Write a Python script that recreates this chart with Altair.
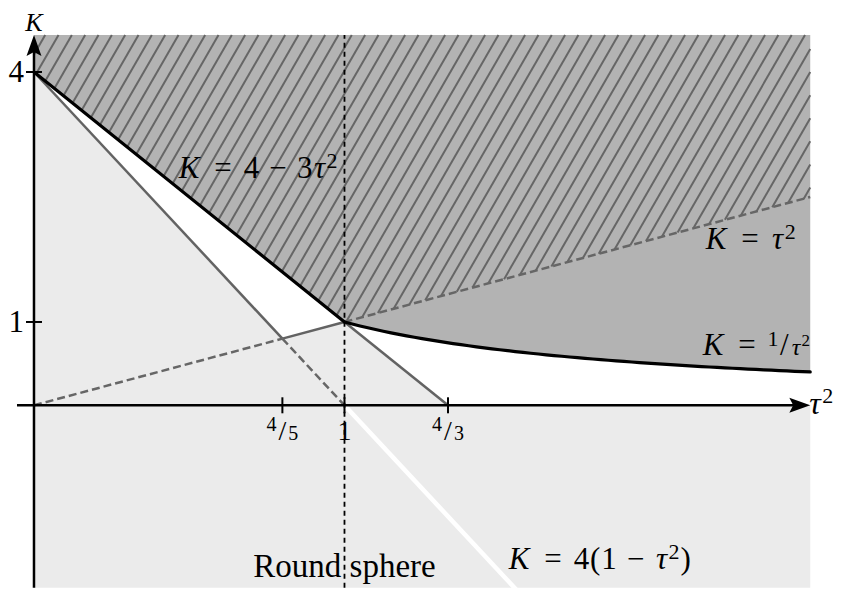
import numpy as np
import pandas as pd
import altair as alt

# ------------------------------------------------------------------ data
tau_breaks = [0.0, 4 / 5, 1.0, 4 / 3]      # tau^2 where the boundary pieces meet
tau_max = 2.5                              # right end of the drawn region
K_top = 4.444                              # top of the shaded region
K_bottom = -2.19                           # bottom of the shaded region
tau_curve = [1.0 + 0.025 * i for i in range(61)]   # tau^2 samples for K = 1/tau^2

x_tick_values = [4 / 5, 1.0, 4 / 3]
x_tick_labels = ["4/5", "1", "4/3"]
y_tick_values = [1.0, 4.0]
y_tick_labels = ["1", "4"]


def K_upper(t):   # K = 4 - 3 tau^2
    return 4 - 3 * t


def K_tau(t):     # K = tau^2
    return t


def K_inv(t):     # K = 1 / tau^2
    return 1 / t


def K_round(t):   # K = 4 (1 - tau^2)
    return 4 * (1 - t)


# ------------------------------------------------------------------ scales
W, H = 829, 582
x_dom = [-0.0837, 2.5862]
y_dom = [-2.2165, 4.7678]
sx = W / (x_dom[1] - x_dom[0])
sy = H / (y_dom[1] - y_dom[0])
xs = alt.Scale(domain=x_dom, nice=False, zero=False)
ys = alt.Scale(domain=y_dom, nice=False, zero=False)
X = alt.X("x:Q", scale=xs, axis=None)
Y = alt.Y("y:Q", scale=ys, axis=None)
X2 = alt.X2("x2:Q")
Y2 = alt.Y2("y2:Q")

t0, t45, t1, t43 = tau_breaks

# ------------------------------------------------------------------ regions
light_x = [t0, t45, t1, t43, tau_max]
light_y = [K_round(t0), K_round(t45), K_tau(t1), K_upper(t43), 0.0]
df_light = pd.DataFrame({"x": light_x, "y": light_y, "y2": K_bottom})

dark_x = [t0] + tau_curve
dark_y = [K_upper(t0)] + [K_inv(t) for t in tau_curve]
df_dark = pd.DataFrame({"x": dark_x, "y": dark_y, "y2": K_top})

light = alt.Chart(df_light).mark_area(color="#ebebeb", opacity=1, interpolate="linear").encode(x=X, y=Y, y2=Y2)
dark = alt.Chart(df_dark).mark_area(color="#b3b3b3", opacity=1, interpolate="linear").encode(x=X, y=Y, y2=Y2)

# hatch lines (60 degrees on screen) over the region above K=4-3tau^2 / K=tau^2
m = np.tan(np.radians(60)) * sx / sy
spacing = 13.33 / sx
phase = (711.7 - 34) / sx
hatch = []
k = int(np.ceil((0 - phase) / spacing))
while True:
    a = phase + k * spacing
    k += 1
    if a > tau_max + (K_top - K_tau(tau_max)) / m:
        break
    if a <= 0:
        continue
    if a > tau_max:
        xe, ye = tau_max, K_top - m * (a - tau_max)
    else:
        xe, ye = a, K_top
    x1 = (4 - K_top + m * a) / (m + 3)
    xs0 = x1 if x1 <= 1 else (m * a - K_top) / (m - 1)
    xs0 = max(xs0, 0.0)
    ys0 = K_top - m * (a - xs0)
    if xs0 >= xe:
        continue
    hatch.append({"x": xs0, "y": ys0, "x2": xe, "y2": ye})
df_hatch = pd.DataFrame(hatch)
hatch_layer = alt.Chart(df_hatch).mark_rule(color="#666666", strokeWidth=2.0).encode(x=X, y=Y, x2=X2, y2=Y2)


def seg(ta, tb, f):
    return {"x": ta, "y": f(ta), "x2": tb, "y2": f(tb)}


df_gray_solid = pd.DataFrame([seg(t0, t45, K_round), seg(t45, t1, K_tau), seg(t1, t43, K_upper)])
df_gray_dash = pd.DataFrame([seg(t45, t1, K_round), seg(t0, t45, K_tau), seg(t1, tau_max, K_tau)])
gray_solid = alt.Chart(df_gray_solid).mark_rule(color="#636363", strokeWidth=2.5).encode(x=X, y=Y, x2=X2, y2=Y2)
gray_dash = alt.Chart(df_gray_dash).mark_rule(color="#666666", strokeWidth=2.5, strokeDash=[8, 4]).encode(
    x=X, y=Y, x2=X2, y2=Y2)

t_white = 1 - (y_dom[0] - 0.1) / 4
df_white = pd.DataFrame([seg(t1, t_white, K_round)])
white = alt.Chart(df_white).mark_rule(color="white", strokeWidth=4.5).encode(x=X, y=Y, x2=X2, y2=Y2)

df_black = pd.DataFrame([seg(t0, t1, K_upper)])
black_seg = alt.Chart(df_black).mark_rule(color="black", strokeWidth=3.2, strokeCap="round").encode(
    x=X, y=Y, x2=X2, y2=Y2)
df_inv = pd.DataFrame({"x": tau_curve, "y": [K_inv(t) for t in tau_curve]})
black_curve = alt.Chart(df_inv).mark_line(color="black", strokeWidth=3.2, strokeCap="round").encode(x=X, y=Y)

df_vert = pd.DataFrame([{"x": t1, "y": K_bottom, "x2": t1, "y2": K_top}])
vert = alt.Chart(df_vert).mark_rule(color="black", strokeWidth=1.8, strokeDash=[5, 4]).encode(
    x=X, y=Y, x2=X2, y2=Y2)

# ------------------------------------------------------------------ axes
df_axes = pd.DataFrame([
    {"x": -17 / sx, "y": 0.0, "x2": tau_max - 12 / sx, "y2": 0.0},
    {"x": 0.0, "y": K_bottom, "x2": 0.0, "y2": K_top - 12 / sy},
])
axes = alt.Chart(df_axes).mark_rule(color="black", strokeWidth=2.5).encode(x=X, y=Y, x2=X2, y2=Y2)

tick_rows = [{"x": -8 / sx, "y": v, "x2": 8 / sx, "y2": v} for v in y_tick_values]
tick_rows += [{"x": v, "y": -8 / sy, "x2": v, "y2": 8 / sy} for v in x_tick_values]
ticks = alt.Chart(pd.DataFrame(tick_rows)).mark_rule(color="black", strokeWidth=2).encode(
    x=X, y=Y, x2=X2, y2=Y2)

up_path = "M0,0L0.68,1.9L0,1.55L-0.68,1.9Z"
right_path = "M0,0L-1.9,-0.68L-1.55,0L-1.9,0.68Z"
arrow_up = alt.Chart(pd.DataFrame({"x": [0.0], "y": [K_top]})).mark_point(
    shape=up_path, filled=True, size=484, color="black", opacity=1, strokeWidth=0).encode(x=X, y=Y)
arrow_right = alt.Chart(pd.DataFrame({"x": [tau_max], "y": [0.0]})).mark_point(
    shape=right_path, filled=True, size=484, color="black", opacity=1, strokeWidth=0).encode(x=X, y=Y)

# ------------------------------------------------------------------ text
FONTS = {
    "it": (31, "italic"), "itL": (32, "italic"), "itK": (26, "italic"), "rm": (31, "normal"),
    "sm": (22, "normal"), "smit": (24, "italic"),
    "xs": (17, "normal"), "tick": (28, "normal"), "tsm": (20, "normal"),
}
TH = (" ", None, 0.278, 0)
MD = (" ", None, 0.222, 0)


def glyphs(pieces, ax, ay, S, anchor="left"):
    total = sum(p[2] for p in pieces) * S
    pen = {"left": 0.0, "center": -total / 2, "right": -total}[anchor]
    rows = []
    for text, key, adv, rise in pieces:
        w = adv * S
        if text.strip():
            rows.append({"x": ax + (pen + w / 2) / sx, "y": ay + rise * S / sy, "text": text, "key": key})
        pen += w
    return rows


rows = []
# K = 4 - 3 tau^2
rows += glyphs([("K", "it", .849, 0), TH, ("=", "rm", .778, 0), TH, ("4", "rm", .5, 0), MD,
                ("−", "rm", .778, 0), MD, ("3", "rm", .5, 0), ("τ", "it", .45, 0), ("2", "sm", .36, .32)],
               0.4573, 2.728, 31)
# K = tau^2
rows += glyphs([("K", "it", .849, 0), TH, ("=", "rm", .778, 0), TH, ("τ", "it", .45, 0), ("2", "sm", .36, .32)],
               2.1546, 1.8757, 31)
# K = 1/tau^2
rows += glyphs([("K", "it", .849, 0), TH, ("=", "rm", .778, 0), TH, ("1", "sm", .34, .30),
                ("/", "rm", .40, 0), ("τ", "smit", .36, 0), ("2", "xs", .26, .30)],
               2.1449, 0.6036, 31)
# K = 4(1 - tau^2)
rows += glyphs([("K", "it", .849, 0), TH, ("=", "rm", .778, 0), TH, ("4", "rm", .5, 0), ("(", "rm", .389, 0),
                ("1", "rm", .5, 0), MD, ("−", "rm", .778, 0), MD, ("τ", "it", .45, 0), ("2", "sm", .36, .32),
                (")", "rm", .389, 0)],
               1.5201, -1.9597, 31)
# axis names
rows += glyphs([("K", "itK", .849, 0)], 0.0, 4.486, 26, "center")
rows += glyphs([("τ", "itL", .5, 0), ("2", "sm", .33, .36)], 2.49, -0.11, 31)
# tick labels
for v, lab in zip(y_tick_values, y_tick_labels):
    rows += glyphs([(lab, "rm", .5, 0)], -0.0322, v - 10 / sy, 31, "right")
for v, lab in zip(x_tick_values, x_tick_labels):
    if "/" in lab:
        num, den = lab.split("/")
        rows += glyphs([(num, "tsm", .36, .30), ("/", "tick", .42, 0), (den, "tsm", .36, 0)], v, -0.4116, 28, "center")
    else:
        rows += glyphs([(lab, "tick", .5, 0)], v, -0.4116, 28, "center")

df_text = pd.DataFrame(rows)
text_layers = []
for key, (size, style) in FONTS.items():
    sub = df_text[df_text["key"] == key]
    if len(sub) == 0:
        continue
    text_layers.append(
        alt.Chart(sub).mark_text(font="Liberation Serif", fontSize=size, fontStyle=style, align="center",
                                 baseline="alphabetic", color="black").encode(x=X, y=Y, text="text:N"))

df_round = pd.DataFrame({"x": [1.0], "y": [-2.0605], "text": ["Round sphere"]})
round_text = alt.Chart(df_round).mark_text(font="Liberation Serif", fontSize=33, align="center",
                                           baseline="alphabetic", color="black").encode(x=X, y=Y, text="text:N")

chart = alt.layer(
    light, dark, hatch_layer, gray_solid, gray_dash, white, black_seg, black_curve, vert,
    axes, ticks, arrow_up, arrow_right, *text_layers, round_text,
).properties(
    width=W, height=H, padding=0, autosize=alt.AutoSizeParams(type="none"), background="white"
).configure_view(stroke="transparent")

chart.save("out.html", embed_options={"renderer": "svg", "actions": False})
